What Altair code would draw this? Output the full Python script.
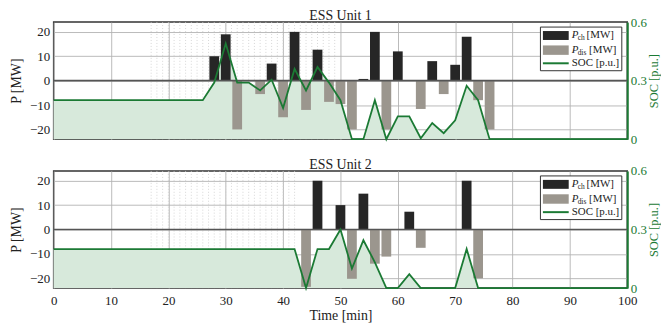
import altair as alt
import pandas as pd

# ---------------- data ----------------
minute_ticks = list(range(0, 101, 10))
p_ticks = [-20, -10, 0, 10, 20]
soc_ticks = [0, 0.3, 0.6]

u1_ch_t = [28, 30, 38, 42, 46, 54, 56, 60, 66, 70, 72]
u1_ch_v = [10, 19, 7, 20, 12.7, 0.7, 20, 12, 8, 6.5, 18]
u1_dis_t = [32, 36, 40, 44, 48, 50, 52, 58, 64, 68, 74, 76]
u1_dis_v = [-20, -5.5, -15, -12, -8.7, -9.6, -20, -20, -11.6, -5.5, -8, -20]
u1_soc_t = [0, 26, 28, 30, 32, 34, 36, 38, 40, 42, 44, 46, 48, 50, 52, 54, 56,
            58, 60, 62, 64, 66, 68, 70, 72, 74, 76, 100]
u1_soc_v = [0.2, 0.2, 0.29, 0.49, 0.29, 0.29, 0.25, 0.305, 0.16, 0.36, 0.25, 0.37,
            0.29, 0.2, 0.0, 0.0, 0.2, 0.0, 0.117, 0.117, 0.005, 0.083, 0.031, 0.097,
            0.274, 0.2, 0.0, 0.0]
u1_minor = list(range(17, 50))

u2_ch_t = [46, 50, 54, 62, 72]
u2_ch_v = [20, 10, 14.7, 7.3, 20]
u2_dis_t = [44, 52, 56, 58, 64, 74]
u2_dis_v = [-23.5, -20.2, -14, -11.1, -7.5, -20]
u2_soc_t = [0, 42, 44, 46, 48, 50, 52, 54, 56, 58, 60, 62, 64, 70, 72, 74, 100]
u2_soc_v = [0.2, 0.2, 0.0, 0.2, 0.2, 0.3, 0.1, 0.245, 0.132, 0.0, 0.0, 0.071, 0.0,
            0.0, 0.2, 0.0, 0.0]
u2_minor = list(range(17, 43))

legend_main = ["P", "P", "SOC [p.u.]"]
legend_sub = ["ch", "dis"]
legend_unit = ["[MW]", "[MW]"]

# ---------------- style ----------------
FONT = "Liberation Serif"
C_CH = "#262626"
C_DIS = "#9b968e"
C_GREEN = "#1b7a34"
C_AREA = "#d7e9db"
W, H = 578, 118
HALF_BAR = 0.85  # minutes
LX = W - 87.5    # legend box left, in plot pixels

x_scale = alt.Scale(domain=[0, 100], nice=False, padding=0)
p_scale = alt.Scale(domain=[-24, 24], nice=False)
soc_scale = alt.Scale(domain=[0, 0.6], nice=False)


def make_panel(title, ch_t, ch_v, dis_t, dis_v, soc_t, soc_v, minor, bottom):
    if bottom:
        x_axis = alt.Axis(values=minute_ticks, title="Time [min]", grid=True,
                          ticks=False, domain=False, labelPadding=7, titlePadding=1,
                          labelFlush=False, labelFont=FONT, titleFont=FONT)
    else:
        x_axis = alt.Axis(values=minute_ticks, title=None, labels=False, grid=True,
                          ticks=False, domain=False)

    def X(field="t"):
        return alt.X(f"{field}:Q", scale=x_scale, axis=x_axis)

    p_axis = alt.Axis(values=p_ticks, title="P [MW]", grid=True, ticks=False,
                      domain=False, labelPadding=4, titlePadding=6,
                      labelFont=FONT, titleFont=FONT)

    minor_rules = alt.Chart(pd.DataFrame({"t": minor})).mark_rule(
        color="#cccccc", strokeWidth=0.8, strokeDash=[1, 2]
    ).encode(x=X())

    soc_df = pd.DataFrame({"t": soc_t, "soc": soc_v})
    area = alt.Chart(soc_df).mark_area(color=C_AREA, opacity=1).encode(
        x=X(), y=alt.Y("soc:Q", scale=soc_scale, axis=None)
    )

    def bars(ts, vs, color):
        return alt.Chart(pd.DataFrame({"t": ts, "v": vs})).transform_calculate(
            t0=f"datum.t - {HALF_BAR}", t1=f"datum.t + {HALF_BAR}"
        ).mark_rect(color=color).encode(
            x=X("t0"), x2="t1:Q",
            y=alt.Y("v:Q", scale=p_scale, axis=p_axis), y2=alt.datum(0),
        )

    ch = bars(ch_t, ch_v, C_CH)
    dis = bars(dis_t, dis_v, C_DIS)
    zero = alt.Chart(pd.DataFrame({"v": [0]})).mark_rule(
        color="#555555", strokeWidth=1.6
    ).encode(y=alt.Y("v:Q", scale=p_scale, axis=p_axis))
    p_layer = alt.layer(ch, dis, zero)

    line = alt.Chart(soc_df).mark_line(color=C_GREEN, strokeWidth=1.8).encode(
        x=X(),
        y=alt.Y("soc:Q", scale=soc_scale,
                axis=alt.Axis(orient="right", values=soc_ticks, format="~g",
                              title="SOC [p.u.]", titleAngle=270, titleBaseline="top",
                              titleFontSize=12.5,
                              grid=False, ticks=False, domainColor=C_GREEN,
                              domainWidth=2, labelColor=C_GREEN, titleColor=C_GREEN,
                              labelPadding=3, titlePadding=1,
                              labelFont=FONT, titleFont=FONT)),
    )

    one = pd.DataFrame({"a": [0]})
    box = alt.Chart(one).mark_rect(fill="white", stroke="#333333", strokeWidth=1).encode(
        x=alt.value(LX), x2=alt.value(LX + 82), y=alt.value(5), y2=alt.value(49)
    )
    r1 = alt.Chart(one).mark_rect(fill=C_CH).encode(
        x=alt.value(LX + 2.5), x2=alt.value(LX + 28.5), y=alt.value(9), y2=alt.value(18)
    )
    r2 = alt.Chart(one).mark_rect(fill=C_DIS).encode(
        x=alt.value(LX + 2.5), x2=alt.value(LX + 28.5), y=alt.value(23.5), y2=alt.value(33)
    )
    lg = alt.Chart(one).mark_rule(color=C_GREEN, strokeWidth=2).encode(
        x=alt.value(LX + 2.5), x2=alt.value(LX + 28.5), y=alt.value(41.5)
    )
    texts = []
    ys = [13.5, 28, 41.5]
    for i, lab in enumerate(legend_main):
        italic = lab == "P"
        texts.append(alt.Chart(one).mark_text(
            text=lab, align="left", baseline="middle", font=FONT, fontSize=11,
            fontStyle="italic" if italic else "normal", color="#222"
        ).encode(x=alt.value(LX + 31.5), y=alt.value(ys[i])))
    for i, lab in enumerate(legend_sub):
        texts.append(alt.Chart(one).mark_text(
            text=lab, align="left", baseline="middle", font=FONT, fontSize=7.5,
            color="#222"
        ).encode(x=alt.value(LX + 37.5), y=alt.value(ys[i] + 3)))
    for i, lab in enumerate(legend_unit):
        texts.append(alt.Chart(one).mark_text(
            text=lab, align="left", baseline="middle", font=FONT, fontSize=11,
            color="#222"
        ).encode(x=alt.value(LX + 46.5 + 2.5 * i), y=alt.value(ys[i])))

    return alt.layer(
        minor_rules, area, p_layer, line, box, r1, r2, lg, *texts
    ).resolve_scale(y="independent").properties(
        width=W, height=H,
        title=alt.TitleParams(title, font=FONT, fontSize=14, fontWeight="normal",
                              color="#222", offset=-7),
    )


top = make_panel("ESS Unit 1", u1_ch_t, u1_ch_v, u1_dis_t, u1_dis_v,
                 u1_soc_t, u1_soc_v, u1_minor, False)
bot = make_panel("ESS Unit 2", u2_ch_t, u2_ch_v, u2_dis_t, u2_dis_v,
                 u2_soc_t, u2_soc_v, u2_minor, True)

chart = alt.vconcat(top, bot, spacing=10).properties(
    padding={"left": 0, "top": -1, "right": 0, "bottom": 0}
).configure(font=FONT).configure_axis(
    labelFont=FONT, titleFont=FONT, labelFontSize=13, titleFontSize=14,
    labelColor="#222", titleColor="#222", titleFontWeight="normal",
    gridColor="#b3b3b3", gridWidth=0.9,
).configure_view(stroke="#333333", strokeWidth=1.5).configure_title(
    font=FONT, fontSize=14, fontWeight="normal"
)

chart.save("out.html", embed_options={"renderer": "svg", "actions": False})
